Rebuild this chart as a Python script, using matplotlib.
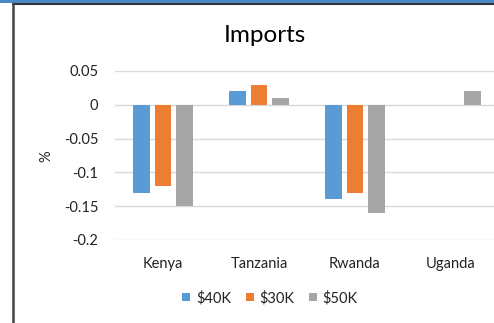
import numpy as np
import matplotlib
matplotlib.use('Agg')
from matplotlib import pyplot as plt
from matplotlib.lines import Line2D
from matplotlib.patches import Rectangle

countries = ['Kenya', 'Tanzania', 'Rwanda', 'Uganda']
series_names = ['$40K', '$30K', '$50K']
vals_40k = [-0.13, 0.02, -0.14, 0.0]
vals_30k = [-0.12, 0.03, -0.13, 0.0]
vals_50k = [-0.15, 0.01, -0.16, 0.02]
yticks = [0.05, 0, -0.05, -0.1, -0.15, -0.2]
ytick_labels = ['0.05', '0', '-0.05', '-0.1', '-0.15', '-0.2']

colors = ['#5B9BD5', '#ED7D31', '#A5A5A5']
text_col = '#222222'
plt.rcParams['font.family'] = ['Lato', 'DejaVu Sans']

fig = plt.figure(figsize=(4.94, 3.23), dpi=100)
# plot area runs past the right edge of the canvas
ax = fig.add_axes([115 / 494, 83 / 323, 384 / 494, 169 / 323])

x = np.arange(len(countries))
width = 0.177
step = 0.229
for i, (vals, c) in enumerate(zip([vals_40k, vals_30k, vals_50k], colors)):
    ax.bar(x + (i - 1) * step, vals, width, color=c, label=series_names[i],
           linewidth=0, zorder=3)

ax.set_xlim(-0.5, 3.5)
ax.set_ylim(-0.2, 0.05)
ax.set_yticks(yticks)
ax.set_yticklabels(ytick_labels)
ax.set_xticks(x)
ax.set_xticklabels(countries)
ax.tick_params(axis='y', length=0, pad=12, labelsize=10.5, labelcolor=text_col)
ax.tick_params(axis='x', length=0, pad=12, labelsize=10.5, labelcolor=text_col)
ax.grid(axis='y', color='#D9D9D9', linewidth=1, zorder=0)
for s in ax.spines.values():
    s.set_visible(False)

fig.text(265 / 494, 1 - 36 / 323, 'Imports', ha='center', va='center',
         fontsize=17.5, color='black')
fig.text(46 / 494, 1 - 156 / 323, '%', ha='center', va='center',
         rotation=90, fontsize=10.5, color=text_col)

ax.legend(loc='center', bbox_to_anchor=(270 / 494, 1 - 298 / 323),
          bbox_transform=fig.transFigure, ncol=3, frameon=False,
          handlelength=0.55, handleheight=0.55, handletextpad=0.4,
          columnspacing=1.0, fontsize=10.5, labelcolor=text_col)

# window frame: blue strip, dark top rule and left rule
fig.patches.append(Rectangle((0, 1 - 3 / 323), 1, 3 / 323, transform=fig.transFigure,
                             facecolor='#4A86C8', edgecolor='none', zorder=5))
fig.lines.append(Line2D([13 / 494, 1], [1 - 4 / 323, 1 - 4 / 323], transform=fig.transFigure,
                        color='#333333', linewidth=1.5, zorder=5))
fig.lines.append(Line2D([13 / 494, 13 / 494], [0, 1 - 4 / 323], transform=fig.transFigure,
                        color='#444444', linewidth=1.8, zorder=5))

plt.savefig('out.png', dpi=100)
